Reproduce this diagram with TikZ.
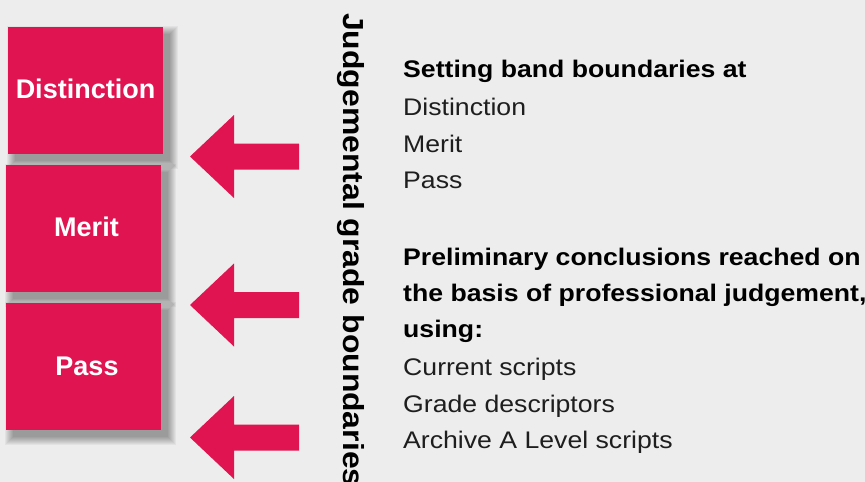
\documentclass[tikz,border=0pt]{standalone}
\usepackage{fontspec}
\setmainfont{Liberation Sans}
\newfontfamily\widefont[FakeStretch=1.11]{Liberation Sans}
\newfontfamily\vertfont[FakeStretch=1.1]{Liberation Sans}
\definecolor{bg}{RGB}{237,237,237}
\definecolor{crim}{RGB}{224,20,80}
\definecolor{bodytxt}{RGB}{30,30,30}
\tikzset{
  gradebox/.style={fill=crim, draw=none},
  shadowlayer/.style={fill=black, fill opacity=0.045, draw=none},
  gradelabel/.style={anchor=base, inner sep=0pt, text=white, font=\fontsize{27}{27}\selectfont\bfseries},
  headline/.style={anchor=base west, inner sep=0pt, text=black, font=\widefont\fontsize{24}{24}\selectfont\bfseries},
  itemline/.style={anchor=base west, inner sep=0pt, text=bodytxt, font=\widefont\fontsize{24}{24}\selectfont},
  fatarrow/.style={fill=crim, draw=none},
}
\newcommand\fatleft[1]{%
  \fill[fatarrow] (190,#1) -- (234,#1-41.5) -- (234,#1-13) -- (299,#1-13)
    -- (299,#1+13) -- (234,#1+13) -- (234,#1+41.5) -- cycle;}
% #1,#2 top-left; #3,#4 bottom-right
\newcommand\shadedbox[4]{%
  \foreach \k in {0,...,8}{
    \fill[shadowlayer] (#1+7-\k,#2+7-\k) rectangle (#3+7+\k,#4+7+\k);
  }
  \fill[gradebox] (#1,#2) rectangle (#3,#4);}
\begin{document}
\begin{tikzpicture}[x=1pt,y=-1pt]
\useasboundingbox (0,0) rectangle (865,482);
\fill[bg] (0,0) rectangle (865,482);

% grade boxes
\shadedbox{8}{27}{163}{154}
\shadedbox{6}{165}{161}{292}
\shadedbox{6}{303}{161}{430}
\node[gradelabel] (dlab) at (85.5,98) {Distinction};
\node[gradelabel] (mlab) at (86.5,236) {Merit};
\node[gradelabel] (plab) at (87,375) {Pass};

% arrows
\fatleft{156.5}
\fatleft{305}
\fatleft{437.5}

% vertical title
\node[rotate=-90, anchor=base west, inner sep=0pt, text=black,
      font=\vertfont\fontsize{29}{29}\selectfont\bfseries] (vtitle) at (343,13) {Judgemental grade boundaries};

% right hand text
\node[headline] (h1) at (403,77) {Setting band boundaries at};
\node[itemline] (i1) at (403,115) {Distinction};
\node[itemline] (i2) at (403,152) {Merit};
\node[itemline] (i3) at (403,188.5) {Pass};

\node[headline] (h2) at (403,265) {Preliminary conclusions reached on};
\node[headline] (h3) at (403,301) {the basis of professional judgement,};
\node[headline] (h4) at (403,337.5) {using:};
\node[itemline] (i4) at (403,375) {Current scripts};
\node[itemline] (i5) at (403,412) {Grade descriptors};
\node[itemline] (i6) at (403,448.5) {Archive A Level scripts};
\end{tikzpicture}
\end{document}
